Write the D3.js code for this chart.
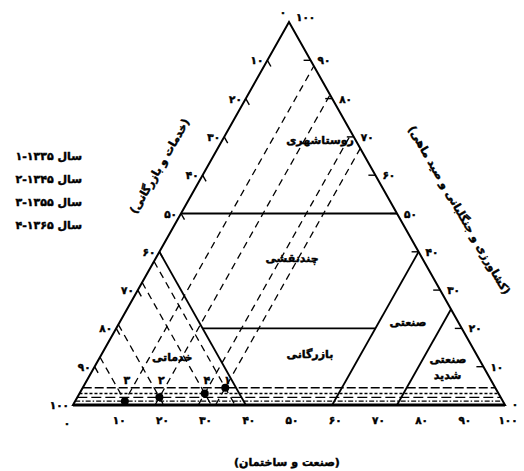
<!DOCTYPE html>
<html>
<head>
<meta charset="utf-8">
<script src="https://cdn.jsdelivr.net/npm/d3@7"></script>
<style>
  body { margin: 0; background: #fff; }
  text { font-family: "DejaVu Sans", sans-serif; font-weight: bold; fill: #000;
         stroke: #000; stroke-width: 0.45px; }
</style>
</head>
<body>
<div id="chart"></div>
<script>
// 1: DATA (percent shares)
const yearLabels = ["سال ۱۳۳۵-۱", "سال ۱۳۴۵-۲", "سال ۱۳۵۵-۳", "سال ۱۳۶۵-۴"];
const pointIds = ["۱", "۲", "۳", "۴"];
const agriculture = [4.5, 2, 1, 3];      // right axis
const industry = [33, 19, 11.5, 29];     // bottom axis
const services = [62.5, 79, 87.5, 68];   // left axis
const tickValues = [10, 20, 30, 40, 50, 60, 70, 80, 90, 100];

// class boundaries as [agriculture, industry] -> [agriculture, industry]
const boundaryFrom = [[50, 0], [40, 0], [40, 60], [20, 20], [25, 75]];
const boundaryTo = [[50, 50], [0, 40], [0, 60], [20, 60], [0, 75]];

const regionNames = ["روستاشهری", "چندنقشی", "صنعتی", "بازرگانی", "خدماتی", "صنعتی", "شدید"];
const regionA = [69.2, 38.4, 21.7, 13.3, 12.5, 12, 7.8];
const regionI = [22.6, 31.5, 66.7, 48.2, 16.7, 80.8, 82.8];

const axisTitles = ["(خدمات و بازرگانی)", "(کشاورزی و جنگلبانی و صید ماهی)", "(صنعت و ساختمان)"];

const fa = n => String(n).replace(/\d/g, c => "۰۱۲۳۴۵۶۷۸۹"[c]);

// 2: SVG AND SCALES
const W = 524, H = 471;
const svg = d3.select("#chart").append("svg")
    .attr("width", W).attr("height", H);

const xScale = d3.scaleLinear().domain([0, 100]).range([73, 505]);
const yScale = d3.scaleLinear().domain([0, 100]).range([405, 22]);
const px = (a, i) => xScale(i + a / 2);
const py = a => yScale(a);

const line = d3.line().x(d => px(d[0], d[1])).y(d => py(d[0]));

// 3: TRIANGLE
svg.append("path")
    .attr("d", line([[0, 0], [100, 0], [0, 100]]) + "Z")
    .attr("fill", "none").attr("stroke", "#000").attr("stroke-width", 2);
svg.append("path")
    .attr("d", line([[0, 0], [0, 100]]))
    .attr("stroke", "#000").attr("stroke-width", 3);

// ticks
tickValues.forEach(v => {
    // left axis (services): s = v -> a = 100 - v, i = 0
    const lx = px(100 - v, 0), ly = py(100 - v);
    if (v < 100) {
        svg.append("line").attr("x1", lx).attr("y1", ly)
            .attr("x2", lx + 3.5).attr("y2", ly + 6.2)
            .attr("stroke", "#000").attr("stroke-width", 1.4);
    }
    svg.append("text").attr("x", lx - 4).attr("y", ly + 4)
        .attr("text-anchor", "end").style("font-size", "10.5px").text(fa(v));

    // right axis (agriculture)
    const rx = px(v, 100 - v), ry = py(v);
    if (v < 100) {
        svg.append("line").attr("x1", rx).attr("y1", ry)
            .attr("x2", rx - 7).attr("y2", ry)
            .attr("stroke", "#000").attr("stroke-width", 1.4);
    }
    svg.append("text").attr("x", rx + 7).attr("y", v === 100 ? ry - 1 : ry + 4)
        .attr("text-anchor", "start").style("font-size", "10.5px").text(fa(v));

    // bottom axis (industry)
    svg.append("text").attr("x", xScale(v) + 3).attr("y", 424)
        .attr("text-anchor", "middle").style("font-size", "10.5px").text(fa(v));
});

// zeros at corners
svg.append("text").attr("x", px(100, 0) - 6).attr("y", py(100) - 6)
    .attr("text-anchor", "middle").style("font-size", "10.5px").text(fa(0));
svg.append("text").attr("x", px(0, 100) + 10).attr("y", py(0) + 3)
    .attr("text-anchor", "middle").style("font-size", "10.5px").text(fa(0));
svg.append("text").attr("x", xScale(0) - 6).attr("y", py(0) + 22)
    .attr("text-anchor", "middle").style("font-size", "10.5px").text(fa(0));

// 4: CLASS BOUNDARIES
svg.selectAll("path.boundary")
    .data(boundaryFrom.map((f, k) => [f, boundaryTo[k]]))
    .enter().append("path")
    .attr("class", "boundary")
    .attr("d", line)
    .attr("fill", "none").attr("stroke", "#000").attr("stroke-width", 1.8);

// 5: GUIDE LINES FOR EACH YEAR
const yearDash = ["9,3", "10,4", "5,2,1.5,2", "3,2"];

agriculture.forEach((a, k) => {
    const i = industry[k], s = services[k];
    // constant agriculture (horizontal), edge to edge
    svg.append("path").attr("d", line([[a, 0], [a, 100 - a]]))
        .attr("fill", "none").attr("stroke", "#000").attr("stroke-width", 1.3)
        .attr("stroke-dasharray", yearDash[k]);
    // constant industry, base to right edge
    svg.append("path").attr("d", line([[0, i], [100 - i, i]]))
        .attr("fill", "none").attr("stroke", "#000").attr("stroke-width", 1.3)
        .attr("stroke-dasharray", "7,5");
    // constant services, left edge to base
    svg.append("path").attr("d", line([[100 - s, 0], [0, 100 - s]]))
        .attr("fill", "none").attr("stroke", "#000").attr("stroke-width", 1.3)
        .attr("stroke-dasharray", "7,5");
});

// points
const pts = agriculture.map((a, k) => ({ a, i: industry[k], id: pointIds[k] }));

svg.selectAll("circle.pt")
    .data(pts)
    .enter().append("circle")
    .attr("class", "pt")
    .attr("cx", d => px(d.a, d.i)).attr("cy", d => py(d.a))
    .attr("r", 4).attr("fill", "#000");

svg.selectAll("text.ptlabel")
    .data(pts)
    .enter().append("text")
    .attr("class", "ptlabel")
    .attr("x", d => px(d.a, d.i) + 2).attr("y", py(5.5))
    .attr("text-anchor", "middle").style("font-size", "11px")
    .text(d => d.id);

// 6: REGION LABELS
regionNames.forEach((name, k) => {
    svg.append("text")
        .attr("x", px(regionA[k], regionI[k])).attr("y", py(regionA[k]) + 4)
        .attr("text-anchor", "middle").attr("direction", "rtl")
        .style("font-size", "11px").text(name);
});

// 7: AXIS TITLES
svg.append("text")
    .attr("transform", "translate(163,168) rotate(-60)")
    .attr("text-anchor", "middle").attr("direction", "rtl")
    .style("font-size", "11px").text(axisTitles[0]);
svg.append("text")
    .attr("transform", "translate(456,212) rotate(60)")
    .attr("text-anchor", "middle").attr("direction", "rtl")
    .style("font-size", "11px").text(axisTitles[1]);
svg.append("text")
    .attr("x", 287).attr("y", 466)
    .attr("text-anchor", "middle").attr("direction", "rtl")
    .style("font-size", "11px").text(axisTitles[2]);

// 8: LEGEND
yearLabels.forEach((t, k) => {
    svg.append("text")
        .attr("x", 82).attr("y", 160 + k * 23)
        .attr("text-anchor", "start").attr("direction", "rtl")
        .style("font-size", "11px").text(t);
});
</script>
</body>
</html>
